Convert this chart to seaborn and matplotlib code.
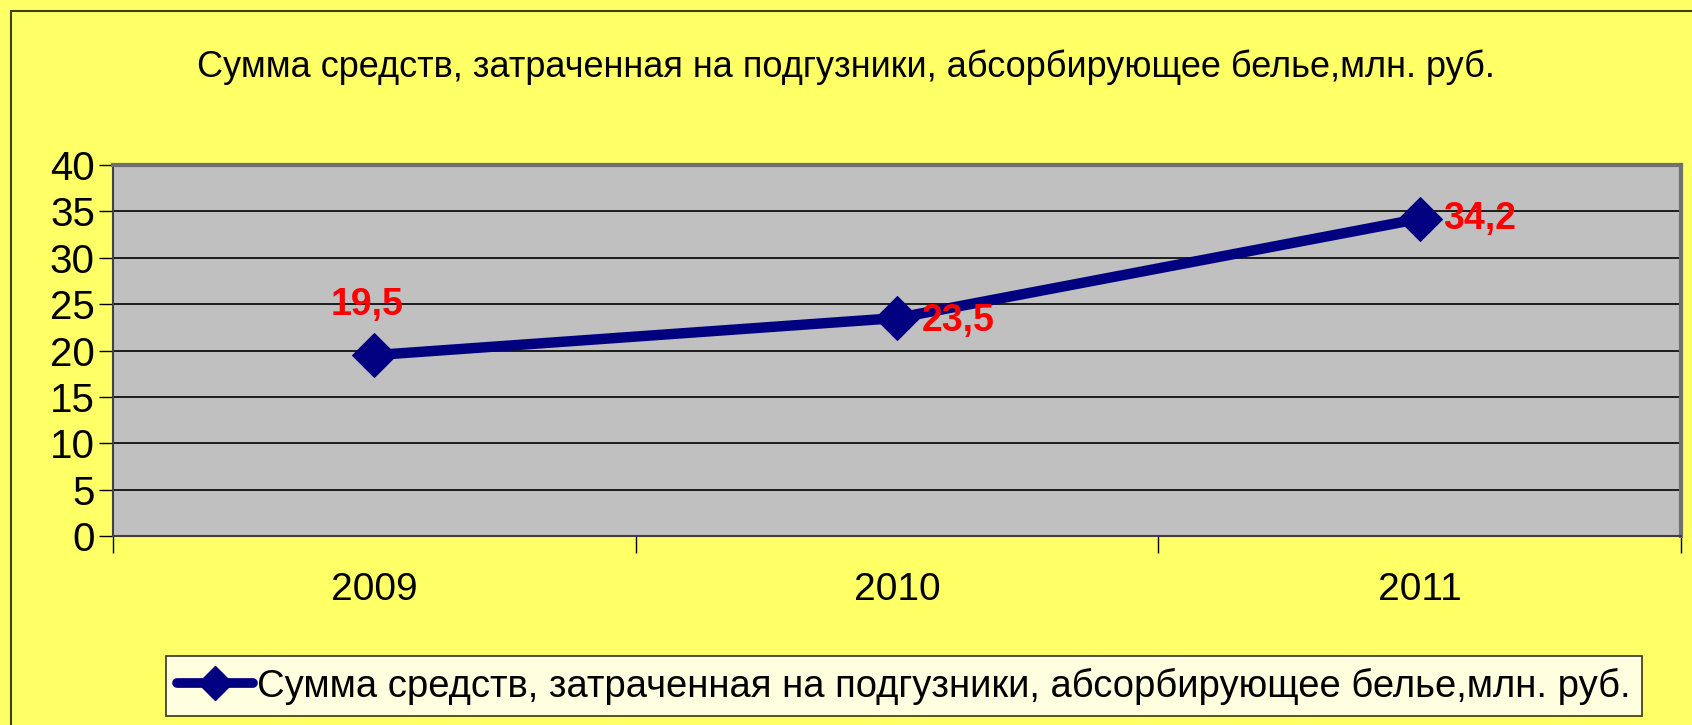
import matplotlib
matplotlib.use("Agg")
import matplotlib.pyplot as plt
from matplotlib.lines import Line2D
from matplotlib.patches import Rectangle
from matplotlib.ticker import FixedLocator, MultipleLocator
import pandas as pd
import seaborn as sns

# ------------------------------
# Data
# ------------------------------
years = ["2009", "2010", "2011"]
spend = [19.5, 23.5, 34.2]
value_labels = ["19,5", "23,5", "34,2"]
series_name = "Сумма средств, затраченная на подгузники, абсорбирующее белье,млн. руб."

# label offsets in points (relative to each marker)
label_offsets = [(-5, 36), (44, -2), (43, 0)]

YELLOW = "#FFFF66"
GRAY = "#C0C0C0"
NAVY = "#000080"

sns.set_theme(style="white")
plt.rcParams["font.family"] = ["Liberation Sans", "DejaVu Sans"]
plt.rcParams.update({"text.color": "black", "xtick.color": "black",
                     "ytick.color": "black", "axes.labelcolor": "black"})

df = pd.DataFrame({"year": years, "value": spend})

fig = plt.figure(figsize=(16.92, 7.25), dpi=100, facecolor=YELLOW)
ax = fig.add_axes([113 / 1692, 1 - 536 / 725, (1681 - 113) / 1692, (536 - 165) / 725])
ax.set_facecolor(GRAY)

sns.lineplot(data=df, x="year", y="value", color=NAVY, linewidth=7.5,
             marker="D", markersize=22, markeredgecolor=NAVY, ax=ax,
             legend=False, sort=False)

for x, (y, lab, off) in enumerate(zip(spend, value_labels, label_offsets)):
    ax.annotate(lab, (x, y), xytext=off, textcoords="offset points",
                ha="center", va="center", color="red", fontsize=27,
                fontweight="bold")

ax.set_xlim(-0.5, 2.5)
ax.set_ylim(0, 40)
ax.yaxis.set_major_locator(MultipleLocator(5))
ax.yaxis.grid(True, color="black", linewidth=1.2)
ax.set_axisbelow(True)

# category ticks sit between the categories
ax.xaxis.set_major_locator(FixedLocator([0, 1, 2]))
ax.xaxis.set_minor_locator(FixedLocator([-0.5, 0.5, 1.5, 2.5]))
ax.tick_params(axis="x", which="major", length=0, pad=26, labelsize=28,
               labelcolor="black")
ax.tick_params(axis="x", which="minor", length=12, width=1, color="black",
               direction="out", bottom=True)
ax.tick_params(axis="y", length=10, width=1, color="black", direction="out",
               left=True, labelsize=29, pad=3, labelcolor="black")
ax.set_xlabel("")
ax.set_ylabel("")

for side in ["top", "right"]:
    ax.spines[side].set_color("#707070")
    ax.spines[side].set_linewidth(3)
for side in ["left", "bottom"]:
    ax.spines[side].set_color("#404040")
    ax.spines[side].set_linewidth(1.5)

fig.text(0.5, 1 - 67 / 725, series_name, ha="center", va="center",
         fontsize=26, color="black")

handle = Line2D([], [], color=NAVY, linewidth=7, marker="D", markersize=17)
leg = fig.legend([handle], [series_name], loc="center",
                 bbox_to_anchor=(904 / 1692, 1 - 686 / 725), fontsize=27.5,
                 frameon=True, fancybox=False, handlelength=2.0,
                 handletextpad=0.1, borderpad=0.3, borderaxespad=0,
                 labelcolor="black")
leg.get_frame().set_edgecolor("black")
leg.get_frame().set_linewidth(1.2)
leg.get_frame().set_facecolor("white")

# outer chart frame
fig.patches.append(Rectangle((11 / 1692, -0.1), 1.2, 1 - 11 / 725 + 0.1,
                             transform=fig.transFigure, fill=False,
                             edgecolor="#404000", linewidth=1.5))

fig.savefig("out.png", dpi=100, facecolor=YELLOW)
